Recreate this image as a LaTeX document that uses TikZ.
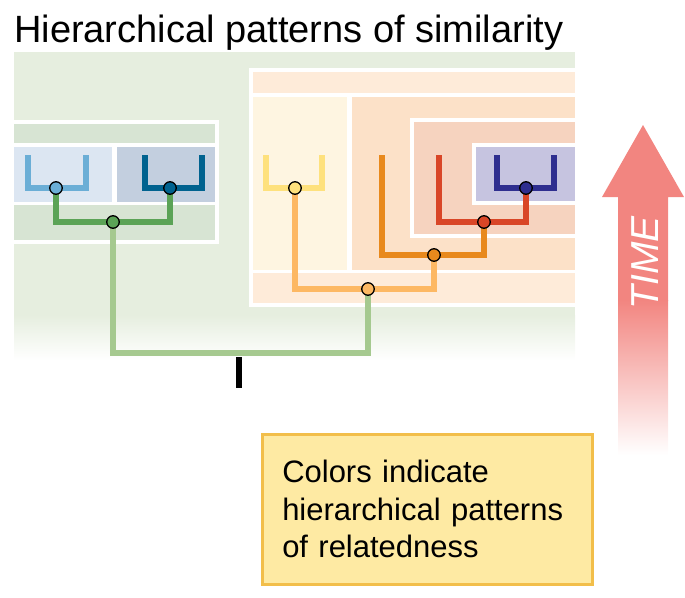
\documentclass[tikz,border=0pt]{standalone}
\usepackage{fontspec}
\setmainfont{Liberation Sans}

\definecolor{bggreen}{HTML}{E6EEDF}
\definecolor{stripgreen}{HTML}{D7E4D3}
\definecolor{lbluebox}{HTML}{DCE6F2}
\definecolor{dbluebox}{HTML}{C3CFDF}
\definecolor{peachA}{HTML}{FEEBD9}
\definecolor{yellowbox}{HTML}{FEF5E1}
\definecolor{peachB}{HTML}{FCE1C8}
\definecolor{peachC}{HTML}{F6D3BF}
\definecolor{purplebox}{HTML}{C6C4E0}
\definecolor{lblue}{HTML}{6BAED6}
\definecolor{dblue}{HTML}{00628F}
\definecolor{green}{HTML}{5BA356}
\definecolor{lgreen}{HTML}{A5C98F}
\definecolor{yellow}{HTML}{FEE17D}
\definecolor{lorange}{HTML}{FDB863}
\definecolor{orange}{HTML}{E8891D}
\definecolor{red}{HTML}{D94627}
\definecolor{navy}{HTML}{2E2E8F}
\definecolor{timered}{HTML}{F28580}
\definecolor{notefill}{HTML}{FEEAA3}
\definecolor{noteline}{HTML}{F2BE4A}

\pgfdeclarelayer{back}
\pgfdeclarelayer{wires}
\pgfsetlayers{back,wires,main}

\begin{document}
\begin{tikzpicture}[x=1pt, y=-1pt,
  wire/.style={line width=6pt},
  dot/.style={circle, draw=black, line width=1.3pt, minimum size=12.5pt, inner sep=0pt}]

\useasboundingbox (0,0) rectangle (685,597);

% Title
\node[anchor=base west, inner sep=0pt, font=\fontsize{38}{38}\selectfont] (title) at (14,42) {Hierarchical patterns of similarity};

% Background panels
\begin{pgfonlayer}{back}
\fill[bggreen] (14,52) rectangle (575,316);
\shade[top color=bggreen, bottom color=white] (14,315) rectangle (575,360);
% left group
\fill[white] (14,120) rectangle (219,244);
\fill[stripgreen] (14,124) rectangle (215,143);
\fill[stripgreen] (14,205) rectangle (215,240);
\fill[lbluebox] (14,147) rectangle (112,202);
\fill[dbluebox] (117,147) rectangle (215,202);
% right group
\fill[white] (249,68) rectangle (575,307);
\fill[peachA] (253,72) rectangle (575,93);
\fill[peachA] (253,273) rectangle (575,303);
\fill[yellowbox] (253,97) rectangle (347,270);
\fill[peachB] (352,97) rectangle (575,270);
\fill[white] (410,118) rectangle (575,238);
\fill[peachC] (414,122) rectangle (575,234);
\fill[white] (472,143) rectangle (575,205);
\fill[purplebox] (476,147) rectangle (575,201);
\end{pgfonlayer}

% Leaf tips
\coordinate (lbL) at (28,155);
\coordinate (lbR) at (86,155);
\coordinate (dbL) at (145,155);
\coordinate (dbR) at (202,155);
\coordinate (yeL) at (266,155);
\coordinate (yeR) at (322,155);
\coordinate (orL) at (382,155);
\coordinate (reL) at (439,155);
\coordinate (nvL) at (497,155);
\coordinate (nvR) at (554,155);
\coordinate (root) at (239,353);
\coordinate (tickTop) at (239,357);
\coordinate (tickBot) at (239,388);

% Junctions
\node[dot, fill=lblue] (lbJ) at (56,188) {};
\node[dot, fill=dblue] (dbJ) at (170,188) {};
\node[dot, fill=green] (grJ) at (113,222) {};
\node[dot, fill=yellow] (yeJ) at (295,188) {};
\node[dot, fill=lorange] (loJ) at (368,289) {};
\node[dot, fill=orange] (orJ) at (434,255) {};
\node[dot, fill=red] (reJ) at (484,222) {};
\node[dot, fill=navy] (nvJ) at (526,188) {};

% Branches
\begin{pgfonlayer}{wires}
\draw[wire, lblue] (lbL) |- (lbJ.center) -| (lbR);
\draw[wire, dblue] (dbL) |- (dbJ.center) -| (dbR);
\draw[wire, green] (lbJ.center) |- (grJ.center) -| (dbJ.center);
\draw[wire, lgreen] (grJ.center) |- (root) -| (loJ.center);
\draw[wire, yellow] (yeL) |- (yeJ.center) -| (yeR);
\draw[wire, lorange] (yeJ.center) |- (loJ.center) -| (orJ.center);
\draw[wire, orange] (orL) |- (orJ.center) -| (reJ.center);
\draw[wire, red] (reL) |- (reJ.center) -| (nvJ.center);
\draw[wire, navy] (nvL) |- (nvJ.center) -| (nvR);
\end{pgfonlayer}
\draw[line width=6pt] (tickTop) -- (tickBot);

% Time arrow
\fill[timered] (618,301) -- (618,197) -- (602,197) -- (643,125) -- (684,197) -- (668,197) -- (668,301) -- cycle;
\shade[top color=timered, bottom color=white] (618,300) rectangle (668,455);
\node[rotate=90, text=white, font=\itshape\fontsize{39}{39}\selectfont] (time) at (645,263) {TIME};

% Note box
\node[draw=noteline, fill=notefill, line width=3.5pt, anchor=north west, minimum width=330pt, minimum height=150pt,
  inner xsep=20pt, text width=290pt, align=left, font=\fontsize{31}{37.5}\selectfont] (note) at (260.5,432.5)
  {Colors indicate\\hierarchical patterns\\of relatedness};

\end{tikzpicture}
\end{document}
